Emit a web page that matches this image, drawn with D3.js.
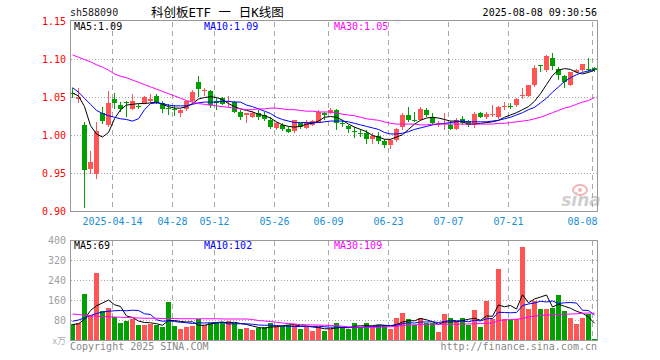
<!DOCTYPE html>
<html><head><meta charset="utf-8">
<script src="https://cdn.jsdelivr.net/npm/d3@7"></script>
<style>
html,body{margin:0;padding:0;background:#fff;}
svg{display:block;}
text{font-family:"DejaVu Sans Mono",monospace;font-size:10px;}
</style></head><body>
<svg id="c" width="660" height="360"></svg>
<script>
const dates = ["04-02","04-03","04-07","04-08","04-09","04-10","04-11","04-14","04-15","04-16","04-17","04-18","04-21","04-22","04-23","04-24","04-25","04-28","04-29","04-30",
"05-06","05-07","05-08","05-09","05-12","05-13","05-14","05-15","05-16","05-19","05-20","05-21","05-22","05-23","05-26","05-27","05-28","05-29","05-30",
"06-03","06-04","06-05","06-06","06-09","06-10","06-11","06-12","06-13","06-16","06-17","06-18","06-19","06-20","06-23","06-24","06-25","06-26","06-27","06-30",
"07-01","07-02","07-03","07-04","07-07","07-08","07-09","07-10","07-11","07-14","07-15","07-16","07-17","07-18","07-21","07-22","07-23","07-24","07-25","07-28","07-29","07-30","07-31",
"08-01","08-04","08-05","08-06","08-07","08-08"];
const open  = [1.0565,1.048,1.014,0.956,0.949,1.029,1.014,1.048,1.040,1.044,1.035,1.039,1.043,1.045,1.052,1.043,1.036,1.035,1.029,1.035,
1.045,1.071,1.058,1.058,1.046,1.049,1.045,1.044,1.031,1.0275,1.025,1.030,1.027,1.021,1.010,1.0135,1.009,1.006,1.016,
1.010,1.014,1.017,1.030,1.029,1.033,1.016,1.012,1.006,1.0035,1.003,0.995,0.999,0.993,0.987,0.994,1.011,1.027,1.0205,1.020,
1.034,1.025,1.015,1.0155,1.0135,1.009,1.022,1.019,1.014,1.030,1.025,1.028,1.024,1.0385,1.039,1.040,1.053,1.052,1.066,1.0926,1.086,1.102,1.088,
1.078,1.066,1.0835,1.086,1.087,1.089];
const high  = [1.062,1.062,1.018,0.979,1.018,1.038,1.058,1.056,1.044,1.046,1.055,1.042,1.052,1.054,1.055,1.046,1.041,1.040,1.035,1.046,
1.060,1.078,1.062,1.060,1.049,1.051,1.052,1.046,1.033,1.030,1.032,1.033,1.031,1.024,1.018,1.016,1.011,1.021,1.017,
1.021,1.021,1.033,1.031,1.036,1.035,1.020,1.0135,1.011,1.008,1.007,1.003,1.005,0.995,0.995,1.010,1.030,1.0375,1.031,1.037,
1.036,1.029,1.019,1.029,1.019,1.0235,1.026,1.021,1.031,1.031,1.031,1.040,1.039,1.044,1.043,1.050,1.0625,1.067,1.093,1.093,1.106,1.108,1.090,
1.080,1.084,1.088,1.0945,1.102,1.090];
const low   = [1.050,1.043,0.904,0.950,0.943,1.015,1.011,1.035,1.031,1.025,1.033,1.035,1.042,1.043,1.041,1.030,1.027,1.026,1.025,1.032,
1.043,1.051,1.052,1.036,1.034,1.040,1.038,1.029,1.020,1.016,1.023,1.021,1.019,1.009,1.007,1.006,1.003,1.0035,1.009,
1.008,1.013,1.016,1.021,1.028,1.007,1.011,1.003,0.997,0.998,0.989,0.989,0.989,0.984,0.982,0.992,1.007,1.018,1.018,1.019,
1.025,1.0135,1.011,1.007,1.007,1.007,1.0135,1.011,1.010,1.023,1.022,1.024,1.022,1.033,1.035,1.038,1.0485,1.051,1.064,1.083,1.083,1.086,1.073,
1.062,1.065,1.0826,1.084,1.084,1.0835];
const close = [1.0560,1.051,0.955,0.965,1.006,1.019,1.043,1.043,1.035,1.043,1.045,1.0385,1.051,1.048,1.044,1.035,1.035,1.034,1.033,1.045,
1.057,1.061,1.060,1.040,1.043,1.042,1.046,1.031,1.025,1.029,1.030,1.024,1.022,1.011,1.017,1.009,1.005,1.020,1.011,
1.016,1.019,1.031,1.027,1.033,1.016,1.0145,1.009,1.005,1.003,0.995,1.000,0.993,0.987,0.994,1.008,1.027,1.021,1.020,1.035,
1.027,1.016,1.017,1.016,1.009,1.020,1.016,1.0135,1.028,1.025,1.028,1.0285,1.037,1.039,1.0385,1.0485,1.0538,1.066,1.089,1.0922,1.104,1.091,1.079,
1.070,1.0835,1.0866,1.0936,1.0866,1.086];
const ma5  = [1.056,1.052,1.038,1.013,1.002,0.998,1.004,1.022,1.034,1.040,1.041,1.042,1.042,1.043,1.044,1.041,1.038,1.036,1.036,1.038,
1.042,1.048,1.050,1.051,1.050,1.047,1.042,1.038,1.035,1.033,1.031,1.028,1.026,1.023,1.018,1.014,1.012,1.011,1.012,
1.015,1.016,1.019,1.024,1.025,1.024,1.020,1.015,1.011,1.008,1.005,1.000,0.998,0.995,0.995,0.998,1.001,1.008,1.015,1.020,
1.023,1.024,1.023,1.021,1.019,1.019,1.018,1.015,1.015,1.016,1.017,1.018,1.020,1.024,1.027,1.030,1.034,1.038,1.045,1.055,1.067,1.079,1.086,
1.088,1.087,1.083,1.081,1.083,1.086];
const ma10 = [1.063,1.057,1.049,1.041,1.033,1.029,1.026,1.024,1.022,1.021,1.019,1.022,1.034,1.042,1.043,1.042,1.040,1.039,1.039,1.039,
1.041,1.043,1.044,1.044,1.044,1.045,1.045,1.044,1.044,1.040,1.038,1.035,1.032,1.029,1.024,1.021,1.019,1.017,1.017,
1.017,1.017,1.017,1.018,1.019,1.019,1.019,1.018,1.016,1.014,1.012,1.010,1.008,1.004,1.002,1.002,1.003,1.005,1.008,1.010,
1.012,1.014,1.015,1.016,1.017,1.018,1.019,1.018,1.018,1.018,1.018,1.019,1.020,1.022,1.024,1.027,1.030,1.034,1.037,1.043,1.049,1.057,1.064,
1.071,1.076,1.080,1.083,1.085,1.087];
const ma30 = [1.106,1.103,1.100,1.097,1.093,1.090,1.086,1.081,1.078,1.076,1.073,1.070,1.067,1.064,1.061,1.058,1.055,1.052,1.049,1.046,
1.044,1.042,1.041,1.040,1.039,1.038,1.037,1.036,1.035,1.034,1.034,1.035,1.035,1.036,1.036,1.035,1.034,1.034,1.033,
1.032,1.032,1.031,1.031,1.031,1.030,1.028,1.027,1.026,1.024,1.022,1.021,1.020,1.018,1.016,1.015,1.015,1.015,1.015,1.014,
1.014,1.015,1.015,1.015,1.015,1.015,1.015,1.015,1.015,1.015,1.015,1.015,1.016,1.016,1.017,1.018,1.019,1.020,1.022,1.024,1.027,1.030,1.033,
1.036,1.038,1.041,1.044,1.046,1.050];
const volume = [66,70,186,104,270,118,130,94,70,79,85,62,62,66,62,55,155,60,46,54,
58,87,61,72,72,73,78,69,47,52,42,50,54,72,58,60,64,64,46,
55,39,56,39,47,70,53,47,70,53,70,57,63,61,46,91,109,86,61,91,
70,69,35,105,91,77,90,63,122,54,159,87,286,87,82,87,374,126,159,126,126,131,182,
118,90,66,90,107,5];
const volMa5 = [64,67,85,120,139,150,162,143,136,98,92,78,72,71,67,61,80,80,76,74,
75,61,61,66,70,73,71,73,68,64,58,52,49,54,55,59,62,64,58,
58,54,52,47,47,50,53,51,57,59,59,59,63,61,59,64,74,79,79,88,
83,75,65,74,74,75,80,85,89,81,98,97,142,135,140,126,183,151,166,174,182,134,145,
137,129,117,109,94,69];
const volMa10 = [77,82,90,100,108,114,117,119,120,119,121,120,107,104,83,77,79,76,73,71,
68,71,70,71,72,74,66,67,67,67,65,62,61,61,60,58,57,56,56,
57,56,57,55,53,54,53,52,52,53,54,56,57,59,59,61,67,71,70,74,
74,75,72,76,81,79,78,75,81,78,87,88,113,112,111,112,140,146,150,157,154,158,148,
151,152,150,121,120,102];
const volMa30 = [106,104,101,98,97,96,95,94,93,92,91,90,89,89,89,88,88,88,87,87,
87,87,87,87,87,86,86,86,86,86,84,80,78,76,73,70,68,66,64,
63,62,62,61,60,59,57,55,54,53,53,53,53,54,55,57,60,62,63,64,
65,65,65,65,65,65,66,66,67,68,69,70,80,82,84,85,88,95,97,100,102,103,104,
105,106,107,109,110,109];
const priceTicks = [1.15,1.10,1.05,1.00,0.95,0.90];
const volTicks = [400,320,240,160,80];
const axisDates = ["04-14","04-28","05-12","05-26","06-09","06-23","07-07","07-21","08-08"];
const axisLabels = ["2025-04-14","04-28","05-12","05-26","06-09","06-23","07-07","07-21","08-08"];
const priceLegend = [["MA5:1.09","#000"],["MA10:1.09","#0000ff"],["MA30:1.05","#ff00ff"]];
const volLegend = [["MA5:69","#000"],["MA10:102","#0000ff"],["MA30:109","#ff00ff"]];

const RED = "#ff5555", GREEN = "#00a000", GRID = "#a8a8a8";
const svg = d3.select("#c");
const L = 70.5, R = 597.5, PT = 21.5, PB = 211.5, VT = 240.5, VB = 340.5;
const x = d3.scalePoint().domain(dates).range([72.5, 594.5]);
const yP = d3.scaleLinear().domain([0.90, 1.15]).range([PB, PT]);
const yV = d3.scaleLinear().domain([0, 400]).range([VB, VT]);

// header
svg.append("text").attr("x", 70).attr("y", 16).attr("fill", "#222").text("sh588090");
svg.append("text").attr("x", 151).attr("y", 17).attr("fill", "#000").attr("xml:space", "preserve")
  .style("white-space", "pre")
  .style("font-family", "'DejaVu Sans Mono','Noto Sans CJK SC',monospace").style("font-size", "12.5px")
  .text("科创板ETF 一 日K线图");
svg.append("text").attr("x", 597).attr("y", 16).attr("text-anchor", "end").attr("fill", "#000").text("2025-08-08 09:30:56");

// grids
const g = svg.append("g").attr("shape-rendering", "crispEdges");
g.selectAll(".hp").data(priceTicks.slice(1, -1)).join("line")
  .attr("x1", L).attr("x2", R).attr("y1", d => yP(d)).attr("y2", d => yP(d))
  .attr("stroke", GRID).attr("stroke-dasharray", "1,2");
g.selectAll(".hv").data(volTicks.slice(1)).join("line")
  .attr("x1", L).attr("x2", R).attr("y1", d => yV(d)).attr("y2", d => yV(d))
  .attr("stroke", GRID).attr("stroke-dasharray", "1,2");
[[PT, PB], [VT, VB]].forEach(([t, b]) => {
  g.append("g").selectAll("line").data(axisDates).join("line")
    .attr("x1", d => x(d) - 2).attr("x2", d => x(d) - 2).attr("y1", t).attr("y2", b)
    .attr("stroke", GRID).attr("stroke-dasharray", "5,4");
});

// axis labels
svg.selectAll(".pl").data(priceTicks).join("text")
  .attr("x", 66).attr("y", d => yP(d)).attr("dy", "0.35em").attr("text-anchor", "end")
  .attr("fill", "#ff0000").text(d => d.toFixed(2));
svg.selectAll(".vl").data(volTicks).join("text")
  .attr("x", 66).attr("y", d => yV(d)).attr("dy", "0.35em").attr("text-anchor", "end")
  .attr("fill", "#a0a0a0").text(d => d);
svg.append("text").attr("x", 66).attr("y", 344).attr("text-anchor", "end").attr("fill", "#b0b0b0")
  .style("font-family", "'Noto Sans CJK SC',sans-serif").style("font-size", "9px").text("x万");
svg.selectAll(".xl").data(axisDates).join("text")
  .attr("x", (d, i) => i === axisDates.length - 1 ? R : x(d) - 2)
  .attr("y", 221).attr("dy", "0.35em")
  .attr("text-anchor", (d, i) => i === axisDates.length - 1 ? "end" : "middle")
  .attr("fill", "#1a8fd6").text((d, i) => axisLabels[i]);

// watermark
const wm = svg.append("g").attr("opacity", 0.6);
wm.append("ellipse").attr("cx", 580).attr("cy", 190).attr("rx", 7).attr("ry", 5).attr("fill", "none").attr("stroke", "#f08080").attr("stroke-width", 2);
wm.append("circle").attr("cx", 580).attr("cy", 190).attr("r", 2).attr("fill", "#f08080");
wm.append("text").attr("x", 581).attr("y", 206).attr("text-anchor", "middle").attr("fill", "#b0b0b0")
  .style("font-family", "'DejaVu Sans',sans-serif").style("font-size", "17px").style("font-style", "italic").style("font-weight", "bold").text("sina");

// clip
const defs = svg.append("defs");
defs.append("clipPath").attr("id", "cp").append("rect").attr("x", L).attr("y", PT).attr("width", R - L).attr("height", PB - PT);
defs.append("clipPath").attr("id", "cv").append("rect").attr("x", L).attr("y", VT).attr("width", R - L).attr("height", VB - VT);

// candles
const idx = d3.range(dates.length);
const col = i => close[i] >= open[i] ? RED : GREEN;
const cg = svg.append("g").attr("clip-path", "url(#cp)").attr("shape-rendering", "crispEdges");
cg.selectAll(".w").data(idx).join("line")
  .attr("x1", i => x(dates[i])).attr("x2", i => x(dates[i]))
  .attr("y1", i => yP(high[i])).attr("y2", i => yP(low[i])).attr("stroke", col);
cg.selectAll(".b").data(idx).join("rect")
  .attr("x", i => x(dates[i]) - 2.5).attr("width", 5)
  .attr("y", i => Math.min(yP(open[i]), yP(close[i])))
  .attr("height", i => Math.max(1, Math.abs(yP(open[i]) - yP(close[i]))))
  .attr("fill", col);

// MA lines price
const lp = d3.line().x((v, i) => x(dates[i])).y(v => yP(v));
const mg = svg.append("g").attr("clip-path", "url(#cp)").attr("fill", "none");
[[ma5, "#000"], [ma10, "#0000ff"], [ma30, "#ff00ff"]].forEach(([s, c]) =>
  mg.append("path").attr("d", lp(s)).attr("stroke", c).attr("stroke-width", 1));

// volume
const vg = svg.append("g").attr("clip-path", "url(#cv)").attr("shape-rendering", "crispEdges");
vg.selectAll("rect").data(idx).join("rect")
  .attr("x", i => x(dates[i]) - 2.5).attr("width", 5)
  .attr("y", i => yV(volume[i])).attr("height", i => VB - yV(volume[i]))
  .attr("fill", col);
const lv = d3.line().x((v, i) => x(dates[i])).y(v => yV(v));
const vm = svg.append("g").attr("clip-path", "url(#cv)").attr("fill", "none");
[[volMa5, "#000"], [volMa10, "#0000ff"], [volMa30, "#ff00ff"]].forEach(([s, c]) =>
  vm.append("path").attr("d", lv(s)).attr("stroke", c).attr("stroke-width", 1));

// frames
const fg = svg.append("g").attr("shape-rendering", "crispEdges").attr("fill", "none").attr("stroke", "#999");
fg.append("rect").attr("x", L).attr("y", PT - 1).attr("width", R - L).attr("height", PB - PT + 1);
fg.append("rect").attr("x", L).attr("y", VT).attr("width", R - L).attr("height", VB - VT);

// legends
const lx = [74, 204, 334];
svg.selectAll(".lg").data(priceLegend).join("text")
  .attr("x", (d, i) => lx[i]).attr("y", 30).attr("fill", d => d[1]).text(d => d[0]);
svg.selectAll(".vg").data(volLegend).join("text")
  .attr("x", (d, i) => lx[i]).attr("y", 249).attr("fill", d => d[1]).text(d => d[0]);

// footer
svg.append("text").attr("x", 70).attr("y", 350).attr("fill", "#888").text("Copyright 2025 SINA.COM");
svg.append("text").attr("x", 597).attr("y", 350).attr("text-anchor", "end").attr("fill", "#888").text("http://finance.sina.com.cn");
</script>
</body></html>
